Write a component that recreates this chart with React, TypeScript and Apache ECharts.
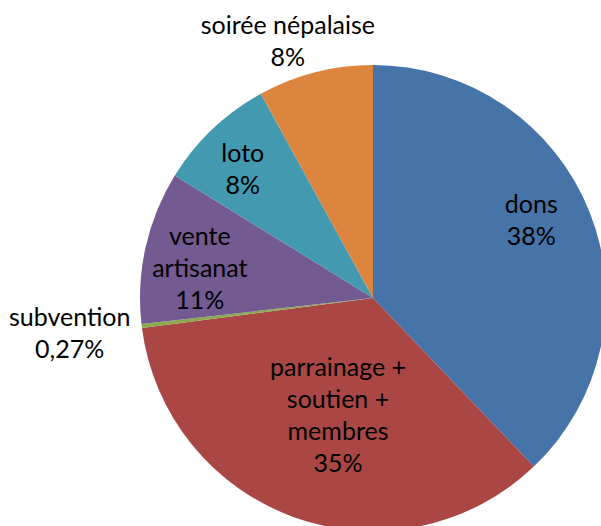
import React, { useEffect, useRef } from "react";
import * as echarts from "echarts";

const categories = [
  "dons",
  "parrainage +\nsoutien +\nmembres",
  "subvention",
  "vente\nartisanat",
  "loto",
  "soirée népalaise",
];
const values = [37.9, 35.1, 0.27, 10.6, 8.2, 8.0];
const colors = ["#4674A8", "#AA4744", "#8BAA4F", "#735A91", "#4299B0", "#DC853E"];

// label placement (style): distance factor from centre and angular tweak (deg)
const labelDist = [0.76, 0.52, 1.31, 0.755, 0.79, 1.165];
const labelAngleShift = [-4.8, -2.7, 0.5, -2.5, -1.5, -3.9];

const CX = 373;
const CY = 298;
const R = 233;

function fmtPct(p: number): string {
  if (p < 1) return p.toFixed(2).replace(".", ",") + "%";
  return Math.round(p) + "%";
}

export default function App() {
  const ref = useRef<HTMLDivElement>(null);
  useEffect(() => {
    document.body.style.margin = "0";
    if (!ref.current) return;
    const chart = echarts.init(ref.current, null, { renderer: "svg" });
    const total = values.reduce((a, b) => a + b, 0);
    const mids: number[] = [];
    let acc = 0;
    values.forEach((v) => {
      mids.push(((acc + v / 2) / total) * 360);
      acc += v;
    });
    chart.setOption({
      animation: false,
      backgroundColor: "#ffffff",
      series: [
        {
          type: "pie",
          center: [CX, CY],
          radius: R,
          startAngle: 90,
          clockwise: true,
          avoidLabelOverlap: false,
          data: categories.map((c, i) => ({
            name: c,
            value: values[i],
            itemStyle: { color: colors[i] },
          })),
          itemStyle: { borderWidth: 0 },
          emphasis: { disabled: true },
          labelLine: { show: false },
          label: {
            show: true,
            position: "inside",
            formatter: (p: any) => p.name + "\n" + fmtPct((p.value / total) * 100),
            fontFamily: "Lato, 'Noto Sans', sans-serif",
            fontSize: 25,
            lineHeight: 32,
            color: "#000000",
            align: "center",
            verticalAlign: "middle",
          },
          labelLayout: (params: any) => {
            const i = params.dataIndex;
            const a = ((mids[i] + labelAngleShift[i]) * Math.PI) / 180;
            const d = labelDist[i] * R;
            return {
              x: CX + d * Math.sin(a),
              y: CY - d * Math.cos(a),
              align: "center",
              verticalAlign: "middle",
            };
          },
        },
      ],
    });
    return () => chart.dispose();
  }, []);
  return <div ref={ref} style={{ width: 601, height: 526 }} />;
}
